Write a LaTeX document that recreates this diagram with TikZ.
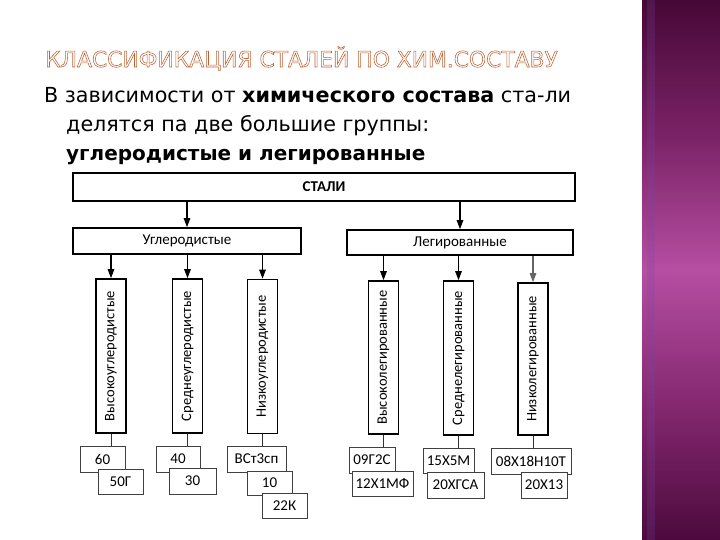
\documentclass[tikz,border=0pt]{standalone}
\usepackage{fontspec}
\setmainfont{DejaVu Sans}
\newfontfamily\diagf{Carlito}
\newfontfamily\titlef{DejaVu Sans}
\usetikzlibrary{arrows.meta}
\definecolor{bandA}{RGB}{70,8,54}
\definecolor{bandB}{RGB}{122,34,102}
\definecolor{bandC}{RGB}{182,78,162}
\definecolor{bandD}{RGB}{132,40,112}
\definecolor{bandE}{RGB}{76,10,60}
\definecolor{bandstripe}{RGB}{120,70,170}
\pgfdeclareverticalshading{bandshade}{100bp}{color(0bp)=(bandE); color(25bp)=(bandE); color(37.5bp)=(bandD); color(50bp)=(bandC); color(62.5bp)=(bandB); color(75bp)=(bandA); color(100bp)=(bandA)}
\newcommand\outlinetext[1]{\special{pdf:literal direct 0.74 0.38 0.20 RG 2 Tr 0.55 w}#1\special{pdf:literal direct 0 Tr}}
\tikzset{
  mainbox/.style={draw=black, line width=1.6pt, fill=white, inner sep=0pt, font=\diagf\fontsize{15}{17}\selectfont},
  vbox/.style={draw=black, line width=1.6pt, fill=white, inner sep=0pt, minimum width=30pt, minimum height=154pt},
  vtext/.style={rotate=90, inner sep=0pt, font=\diagf\fontsize{14.5}{16}\selectfont},
  sbox/.style={draw=black!75, line width=0.9pt, fill=white, inner sep=0pt, font=\diagf\fontsize{15}{17}\selectfont},
  arr/.style={draw=black, line width=1.1pt, -{Triangle[length=9pt,width=6.5pt]}},
  link/.style={draw=black!80, line width=1pt},
  bodytext/.style={anchor=base west, inner sep=0pt, font=\fontsize{20.7}{24}\selectfont}
}
\begin{document}
\begin{tikzpicture}[x=1pt,y=-1pt]
\useasboundingbox (0,0) rectangle (720,540);
\fill[white] (0,0) rectangle (720,540);
% right band
\shade[shading=bandshade] (642,0) rectangle (720,540);
\fill[bandstripe, opacity=0.22] (647,0) rectangle (655,540);
% title
\node[anchor=base west, inner sep=0pt, font=\titlef\fontsize{21.8}{24}\selectfont, text=white] (title) at (45,67) {\outlinetext{КЛАССИФИКАЦИЯ СТАЛЕЙ ПО ХИМ.СОСТАВУ}};
% body text
\node[bodytext] (l1) at (44,103) {В зависимости от \textbf{химического состава} ста-ли};
\node[bodytext] (l2) at (66,132) {делятся па две большие группы:};
\node[bodytext, font=\fontsize{20}{24}\selectfont] (l3) at (66,161) {\textbf{углеродистые и легированные}};
% main boxes
\node[mainbox, minimum width=502pt, minimum height=28pt] (stali) at (324,187) {\bfseries СТАЛИ};
\node[mainbox, minimum width=228pt, minimum height=26pt] (ugl) at (187,241) {Углеродистые};
\node[mainbox, minimum width=226pt, minimum height=25pt] (leg) at (460,242.5) {Легированные};
% vertical boxes
\node[vbox, label={[vtext]center:Высокоуглеродистые}] (v1) at (111,356) {};
\node[vbox, label={[vtext]center:Среднеуглеродистые}] (v2) at (187.5,356) {};
\node[vbox, label={[vtext]center:Низкоуглеродистые}] (v3) at (262.5,356.5) {};
\node[vbox, minimum height=153pt, label={[vtext]center:Высоколегированные}] (v4) at (383.5,357.5) {};
\node[vbox, label={[vtext]center:Среднелегированные}] (v5) at (458.5,358) {};
\node[vbox, minimum height=152pt, label={[vtext]center:Низколегированные}] (v6) at (533,359) {};
% arrows
\draw[arr] (stali.south -| ugl.north) -- (ugl.north);
\draw[arr] (stali.south -| leg.north) -- (leg.north);
\foreach \v in {v1,v2,v3} \draw[arr] (ugl.south -| \v.north) -- (\v.north);
\draw[arr] (leg.south -| v4.north) -- (v4.north);
\draw[arr] (leg.south -| v5.north) -- (v5.north);
\draw[arr, draw=black!60] (leg.south -| v6.north) -- (v6.north);
% bottom boxes
\node[sbox, minimum width=45pt, minimum height=26pt] (b60) at (102.5,459) {60};
\node[sbox, minimum width=45pt, minimum height=25pt] (b50) at (120.5,481.5) {50Г};
\node[sbox, minimum width=44pt, minimum height=26pt] (b40) at (178,459) {40};
\node[sbox, minimum width=47pt, minimum height=26pt] (b30) at (192.5,481) {30};
\node[sbox, minimum width=59pt, minimum height=26pt] (bvst) at (256.5,459) {ВСт3сп};
\node[sbox, minimum width=45pt, minimum height=24pt] (b10) at (269.5,483) {10};
\node[sbox, minimum width=45pt, minimum height=25pt] (b22) at (284.5,505.5) {22К};
\node[sbox, minimum width=46pt, minimum height=26pt] (b09) at (372,460) {09Г2С};
\node[sbox, minimum width=61pt, minimum height=25pt] (b12) at (382.5,483.5) {12Х1МФ};
\node[sbox, minimum width=51pt, minimum height=25pt] (b15) at (448.5,460.5) {15Х5М};
\node[sbox, minimum width=57pt, minimum height=26pt] (b20a) at (455.5,485) {20ХГСА};
\node[sbox, minimum width=80pt, minimum height=26pt] (b08) at (531,461) {08Х18Н10Т};
\node[sbox, minimum width=46pt, minimum height=26pt] (b20b) at (544,485) {20Х13};
% links
\draw[link] (v1.south) -- (v1.south |- b60.north);
\draw[link] (v2.south) -- (v2.south |- b40.north);
\draw[link] (v3.south) -- (v3.south |- bvst.north);
\draw[link] (v4.south) -- (v4.south |- b09.north);
\draw[link] (v5.south) -- (v5.south |- b15.north);
\draw[link] (v6.south) -- (v6.south |- b08.north);
\end{tikzpicture}
\end{document}
